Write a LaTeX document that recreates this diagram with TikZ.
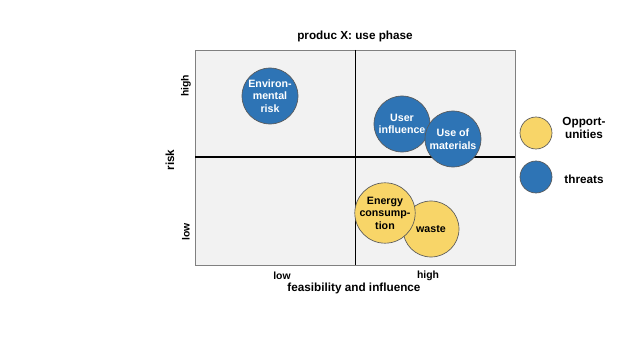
\documentclass[tikz,border=0pt]{standalone}
\usepackage{fontspec}
\setmainfont{Liberation Sans}
\usepackage{tikz}
\usetikzlibrary{positioning}
\definecolor{panelfill}{HTML}{F2F2F2}
\definecolor{panelline}{HTML}{808080}
\definecolor{threat}{HTML}{2E74B5}
\definecolor{chance}{HTML}{F8D568}
\definecolor{rimline}{HTML}{5A5A5A}

\begin{document}
\begin{tikzpicture}[x=0.75pt,y=-0.75pt,
    bubble/.style={circle, draw=rimline, line width=0.5pt, minimum size=42pt, inner sep=0pt, align=center, font=\fontsize{8}{9.4}\selectfont\bfseries},
    threatbub/.style={bubble, fill=threat, text=white},
    chancebub/.style={bubble, fill=chance, text=black},
    legbub/.style={circle, draw=rimline, line width=0.5pt, minimum size=24pt, inner sep=0pt},
    lbl/.style={font=\fontsize{7.8}{9}\selectfont\bfseries, align=center},
    biglbl/.style={font=\fontsize{8.8}{10.4}\selectfont\bfseries, align=center},
    divider/.style={line width=0.8pt, color=black}
  ]
  \useasboundingbox (0,0) rectangle (640,360);
  % matrix panel
  \draw[panelline, fill=panelfill, line width=0.6pt] (195,50) rectangle (515,265);
  \coordinate (top) at (355.5,50);
  \coordinate (bottom) at (355.5,265);
  \coordinate (left) at (195,157);
  \coordinate (right) at (515,157);
  \draw[divider] (top) -- (bottom);
  \draw[divider] (left) -- (right);
  % title and axes
  \node[biglbl] (title) at (355,36) {produc X: use phase};
  \node[lbl] (xlow) at (282,276) {low};
  \node[lbl] (xhigh) at (428,276) {high};
  \node[biglbl] (xaxis) at (354,288) {feasibility and influence};
  \node[biglbl, rotate=90] (yaxis) at (170,160) {risk};
  \node[lbl, rotate=90] (yhigh) at (186,86) {high};
  \node[lbl, rotate=90] (ylow) at (186,232) {low};
  % bubbles
  \node[threatbub] (envrisk) at (270,96) {Environ-\\mental\\risk};
  \node[threatbub] (userinf) at (402,124) {User\\influence};
  \node[threatbub] (material) at (453,139) {Use of\\materials};
  \node[chancebub] (waste) at (431,229) {waste};
  \node[chancebub] (energy) at (385,213) {Energy\\consump-\\tion};
  % legend
  \node[legbub, fill=chance] (legopp) at (536,133) {};
  \node[legbub, fill=threat] (legthr) at (536,177) {};
  \node[biglbl] (txtopp) at (584,128) {Opport-\\unities};
  \node[biglbl] (txtthr) at (584,179) {threats};
\end{tikzpicture}
\end{document}
